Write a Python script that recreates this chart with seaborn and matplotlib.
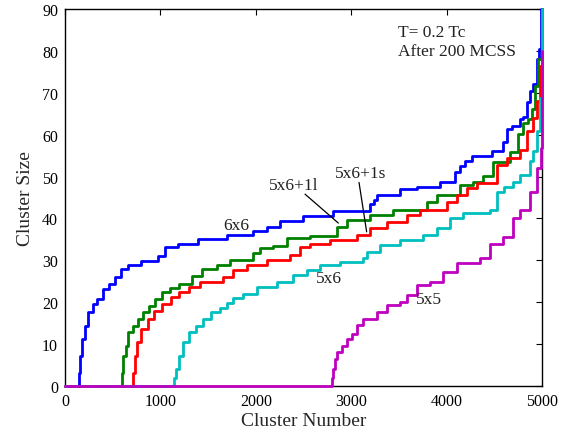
import numpy as np
import pandas as pd
import seaborn as sns
import matplotlib
matplotlib.use("Agg")
import matplotlib.pyplot as plt

# ---- data ----
series_names = ["6x6", "5x6+1l", "5x6+1s", "5x6", "5x5"]

x_6x6 = [0, 147, 160, 180, 210, 245, 290, 340, 395, 460, 520, 590, 660, 800, 975, 1048, 1184, 1394, 1695, 1971,
         2114, 2254, 2495, 2809, 3197, 3240, 3267, 3512, 3686, 3931, 4088, 4140, 4193, 4263, 4473, 4595, 4630, 4682,
         4769, 4804, 4839, 4874, 4909, 4944, 4972, 4992, 5000]
y_6x6 = [0, 3, 7.2, 11.2, 14.4, 17.6, 19.6, 20.8, 23.2, 24.3, 26, 27.9, 28.9, 29.9, 31.1, 33.2, 33.9, 35, 36, 37,
         38, 39.5, 40.6, 41.8, 43.5, 44.5, 45.6, 47, 47.5, 48.6, 51, 52.6, 53.8, 55, 56.2, 58.2, 61.3, 62.1,
         63.7, 64.1, 67.7, 70.5, 72.1, 78, 80.4, 90, 90]

x_5x6_1l = [0, 594, 610, 635, 665, 710, 760, 815, 880, 940, 1020, 1100, 1190, 1330, 1440, 1590, 1730, 1971, 2044, 2184,
            2324, 2568, 2848, 2952, 3197, 3441, 3791, 3896, 4140, 4280, 4385, 4490, 4665, 4752, 4804, 4857, 4892,
            4927, 4960, 4995, 5000]
y_5x6_1l = [0, 3, 7.2, 9.6, 12.8, 14.4, 16, 17.6, 19.2, 20.8, 22.4, 23.3, 24.3, 26.3, 27.9, 29, 30, 31.7, 33, 33.5,
            35.3, 35.7, 38, 39.6, 40.8, 42, 44, 45.6, 48, 48.6, 50.2, 53.4, 55.8, 60.2, 62.9, 63.7, 66.1,
            71.7, 78, 90, 90]

x_5x6_1s = [0, 716, 730, 755, 800, 865, 935, 1020, 1110, 1200, 1300, 1410, 1660, 1765, 1905, 2114, 2358, 2463, 2568,
            2778, 3058, 3197, 3372, 3581, 3720, 4001, 4106, 4210, 4315, 4525, 4630, 4769, 4839, 4909, 4944, 4975,
            4995, 5000]
y_5x6_1s = [0, 3, 7.2, 10.4, 13.6, 16, 18, 19.6, 21.2, 22.4, 23.6, 24.8, 26, 27.6, 29, 30, 31.2, 33.2, 34,
            34.8, 36, 37.7, 39.2, 40.8, 41.9, 44, 45.6, 47.3, 48.4, 52.8, 54.4, 56.4, 60.8, 64, 68, 76.5,
            90, 90]

x_5x6 = [0, 1140, 1160, 1190, 1240, 1305, 1375, 1445, 1530, 1620, 1695, 1765, 1870, 2010, 2219, 2393, 2533, 2673,
         2883, 3127, 3162, 3302, 3512, 3756, 3896, 4036, 4176, 4455, 4525, 4600, 4700, 4769, 4874, 4909, 4944,
         4975, 4995, 5000]
y_5x6 = [0, 2, 4.1, 7.2, 10.4, 12.8, 14.4, 16, 17.6, 18.6, 19.7, 20.9, 22, 23.7, 24.9, 26.5, 27.7, 28.8,
         29.7, 30.5, 32, 33.6, 34.8, 36, 37.7, 40, 41.3, 42, 46.4, 47.5, 48.8, 50.4, 53.6, 56, 60.8,
         68.8, 90, 90]

x_5x5 = [0, 2796, 2813, 2830, 2848, 2900, 2952, 3005, 3058, 3127, 3267, 3372, 3512, 3581, 3686, 3826, 3966, 4106,
         4350, 4455, 4595, 4700, 4769, 4874, 4944, 4990, 5000]
y_5x5 = [0, 2, 4, 6.5, 8, 9.5, 11.3, 12.5, 14.5, 16, 17.7, 19.3, 20, 21.7, 24, 24.9, 27.3, 29.3,
         30.5, 34, 35.6, 40, 42, 46.4, 52, 56.8, 80]

x_ticks = [0, 1000, 2000, 3000, 4000, 5000]
y_ticks = [0, 10, 20, 30, 40, 50, 60, 70, 80, 90]

# ---- build long table ----
frames = []
for name, xs, ys in zip(series_names,
                        [x_6x6, x_5x6_1l, x_5x6_1s, x_5x6, x_5x5],
                        [y_6x6, y_5x6_1l, y_5x6_1s, y_5x6, y_5x5]):
    frames.append(pd.DataFrame({"Cluster Number": xs, "Cluster Size": ys, "series": name}))
df = pd.concat(frames, ignore_index=True)

palette = {"6x6": (0, 0, 1), "5x6+1l": (0, 0.5, 0), "5x6+1s": (1, 0, 0),
           "5x6": (0, 0.75, 0.75), "5x5": (0.75, 0, 0.75)}

sns.set_theme(style="white")
plt.rcParams["font.family"] = ["Liberation Serif", "DejaVu Serif"]

fig = plt.figure(figsize=(5.69, 4.35), dpi=100)
ax = fig.add_axes([65 / 569, (435 - 387) / 435, (542 - 65) / 569, (387 - 10) / 435])

sns.lineplot(data=df, x="Cluster Number", y="Cluster Size", hue="series", hue_order=series_names,
             palette=palette, estimator=None, sort=False, drawstyle="steps-post",
             linewidth=2.0, legend=False, ax=ax)
for ln in ax.get_lines():
    ln.set_clip_on(False)
    ln.set_zorder(3)

ax.set_xlim(0, 5000)
ax.set_ylim(0, 90)
ax.set_xticks(x_ticks)
ax.set_yticks(y_ticks)
ax.tick_params(direction="in", length=4, width=0.8, top=True, right=True,
               labelsize=11.5, colors="black", pad=5)
for s in ax.spines.values():
    s.set_visible(True)
    s.set_color("black")
    s.set_linewidth(1.0)
    s.set_zorder(2)
ax.set_xlabel("Cluster Number", fontsize=14, labelpad=2)
ax.set_ylabel("Cluster Size", fontsize=14, labelpad=6)

tkw = dict(fontsize=12.5, color="#222222")
ax.text(1792, 38.4, "6x6", ha="center", va="center", **tkw)
ax.text(2400, 48.0, "5x6+1l", ha="center", va="center", **tkw)
ax.text(3097, 50.8, "5x6+1s", ha="center", va="center", **tkw)
ax.text(2767, 25.8, "5x6", ha="center", va="center", **tkw)
ax.text(3815, 20.8, "5x5", ha="center", va="center", **tkw)
ax.text(3491, 84.6, "T= 0.2 Tc", ha="left", va="center", **tkw)
ax.text(3491, 79.9, "After 200 MCSS", ha="left", va="center", **tkw)

akw = dict(arrowstyle="-", color="black", lw=0.9, shrinkA=0, shrinkB=0)
ax.annotate("", xy=(2865, 38.9), xytext=(2516, 45.8), arrowprops=akw)
ax.annotate("", xy=(3162, 36.8), xytext=(3082, 48.6), arrowprops=akw)

fig.savefig("out.png", dpi=100)
